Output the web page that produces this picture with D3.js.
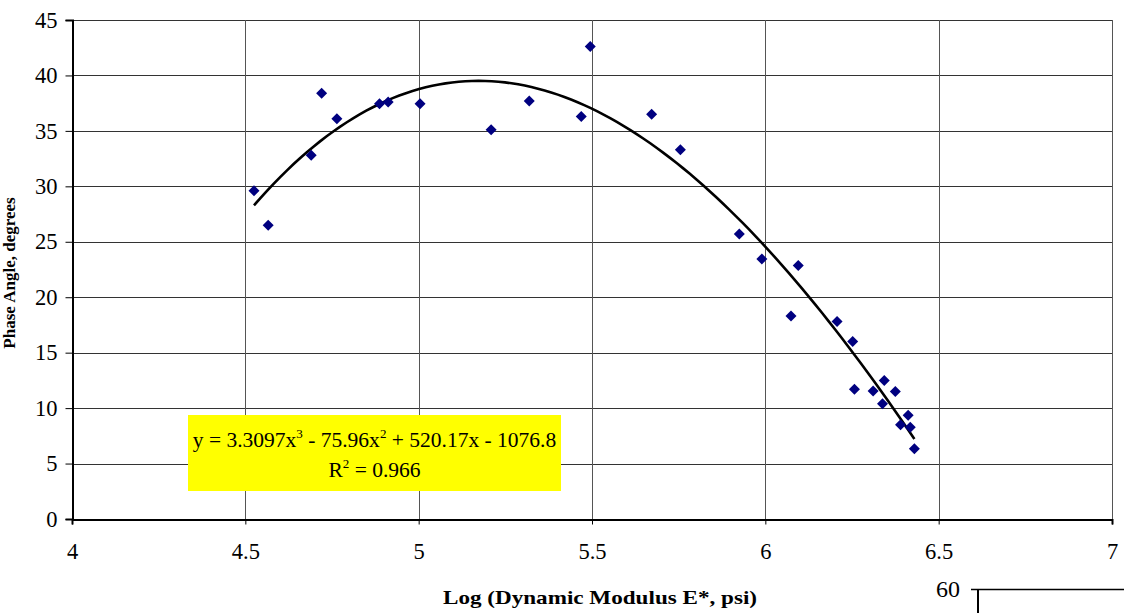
<!DOCTYPE html>
<html>
<head>
<meta charset="utf-8">
<script src="https://cdn.jsdelivr.net/npm/d3@7"></script>
<style>
  html, body { margin: 0; padding: 0; background: #fff; }
  svg, svg text { font-family: "Liberation Serif", "Times New Roman", serif; }
</style>
</head>
<body>
<div id="chart"></div>
<script>
// measured points: log E* vs phase angle
const logModulus = [4.525, 4.566, 4.690, 4.720, 4.764, 4.887, 4.912, 5.004, 5.209, 5.319,
  5.469, 5.495, 5.672, 5.755, 5.925, 5.990, 6.095, 6.074, 6.207, 6.252,
  6.257, 6.343, 6.311, 6.375, 6.338, 6.412, 6.390, 6.418, 6.430];
const phaseAngle = [29.6, 26.5, 32.8, 38.4, 36.1, 37.45, 37.6, 37.45, 35.1, 37.7,
  36.3, 42.6, 36.5, 33.3, 25.7, 23.45, 22.85, 18.3, 17.8, 16.0,
  11.7, 12.5, 11.55, 11.5, 10.4, 9.35, 8.5, 8.27, 6.34];
// trendline coefficients (x^3, x^2, x, 1) as printed on the chart
const trendCoef = [3.3097, -75.96, 520.17, -1076.8];
const rSquared = "0.966";
const xTicks = [4, 4.5, 5, 5.5, 6, 6.5, 7];
const yTicks = [0, 5, 10, 15, 20, 25, 30, 35, 40, 45];

const width = 1124, height = 613;
const margin = {top: 20, right: 12, bottom: 94, left: 72};
const serif = "'Liberation Serif', 'Times New Roman', serif";

const svg = d3.select("#chart").append("svg")
    .attr("width", width)
    .attr("height", height);

const x = d3.scaleLinear().domain([4, 7]).range([margin.left, width - margin.right]);
const y = d3.scaleLinear().domain([0, 45]).range([height - margin.bottom, margin.top]);

const px = v => Math.round(v) + 0.5;

// gridlines
svg.append("g")
    .selectAll("line")
    .data(yTicks)
    .join("line")
    .attr("x1", x(4)).attr("x2", x(7))
    .attr("y1", d => px(y(d))).attr("y2", d => px(y(d)))
    .attr("stroke", "#333")
    .attr("stroke-width", 1);

svg.append("g")
    .selectAll("line")
    .data(xTicks)
    .join("line")
    .attr("x1", d => px(x(d))).attr("x2", d => px(x(d)))
    .attr("y1", y(0)).attr("y2", y(45))
    .attr("stroke", "#555")
    .attr("stroke-width", 1);

// axes
const yAxis = d3.axisLeft(y).tickValues(yTicks).tickSize(7).tickPadding(8).tickFormat(d3.format("d"));
const xAxis = d3.axisBottom(x).tickValues(xTicks).tickSize(5).tickPadding(19).tickFormat(d => d);

function styleAxis(g) {
    g.attr("font-family", null).attr("font-size", null);
    g.select(".domain").attr("stroke-width", 2);
    g.selectAll("text")
        .style("font-family", serif)
        .style("font-size", "22.5px")
        .attr("fill", "#000");
}

svg.append("g")
    .attr("transform", `translate(${px(x(4))},0)`)
    .call(yAxis)
    .call(styleAxis);

svg.append("g")
    .attr("transform", `translate(0,${px(y(0))})`)
    .call(xAxis)
    .call(styleAxis);

// trendline
const poly = v => trendCoef[0] * v * v * v + trendCoef[1] * v * v + trendCoef[2] * v + trendCoef[3];
const xMin = d3.min(logModulus), xMax = d3.max(logModulus);
const curvePts = d3.range(0, 101).map(i => {
    const v = xMin + (xMax - xMin) * i / 100;
    return [v, poly(v)];
});
svg.append("path")
    .datum(curvePts)
    .attr("fill", "none")
    .attr("stroke", "#000")
    .attr("stroke-width", 2.6)
    .attr("d", d3.line().x(d => x(d[0])).y(d => y(d[1])));

// points
svg.append("g")
    .selectAll("path")
    .data(logModulus.map((v, i) => [v, phaseAngle[i]]))
    .join("path")
    .attr("transform", d => `translate(${x(d[0])},${y(d[1])})`)
    .attr("d", "M0,-5.5L5.5,0L0,5.5L-5.5,0Z")
    .attr("fill", "#000080");

// equation box
const box = svg.append("g");
box.append("rect")
    .attr("x", 188).attr("y", 415)
    .attr("width", 373).attr("height", 76)
    .attr("fill", "#ffff00");
const eq = box.append("text")
    .attr("x", 374.5).attr("y", 447)
    .attr("text-anchor", "middle")
    .style("font-family", serif)
    .style("font-size", "21.5px");
eq.append("tspan").text(`y = ${trendCoef[0]}x`);
eq.append("tspan").style("font-size", "13px").attr("dy", -9).text("3");
eq.append("tspan").attr("dy", 9).text(` - ${Math.abs(trendCoef[1])}x`);
eq.append("tspan").style("font-size", "13px").attr("dy", -9).text("2");
eq.append("tspan").attr("dy", 9).text(` + ${trendCoef[2]}x - ${Math.abs(trendCoef[3])}`);
const r2 = box.append("text")
    .attr("x", 374.5).attr("y", 477)
    .attr("text-anchor", "middle")
    .style("font-family", serif)
    .style("font-size", "21.5px");
r2.append("tspan").text("R");
r2.append("tspan").style("font-size", "13px").attr("dy", -9).text("2");
r2.append("tspan").attr("dy", 9).text(` = ${rSquared}`);

// axis titles
svg.append("text")
    .attr("x", 600).attr("y", 604)
    .attr("text-anchor", "middle")
    .attr("textLength", 314)
    .attr("lengthAdjust", "spacingAndGlyphs")
    .style("font-family", serif)
    .style("font-size", "19px")
    .style("font-weight", "bold")
    .text("Log (Dynamic Modulus E*, psi)");

svg.append("text")
    .attr("transform", "translate(15,273) rotate(-90)")
    .attr("text-anchor", "middle")
    .style("font-family", serif)
    .style("font-size", "17px")
    .style("font-weight", "bold")
    .text("Phase Angle, degrees");

// stray fragment of another chart at bottom right
const frag = svg.append("g");
frag.append("text")
    .attr("x", 960).attr("y", 597)
    .attr("text-anchor", "end")
    .style("font-family", serif)
    .style("font-size", "24px")
    .text("60");
frag.append("line")
    .attr("x1", 971).attr("x2", width)
    .attr("y1", 589.5).attr("y2", 589.5)
    .attr("stroke", "#000").attr("stroke-width", 1.5);
frag.append("line")
    .attr("x1", 978).attr("x2", 978)
    .attr("y1", 589).attr("y2", height)
    .attr("stroke", "#000").attr("stroke-width", 2);
</script>
</body>
</html>
